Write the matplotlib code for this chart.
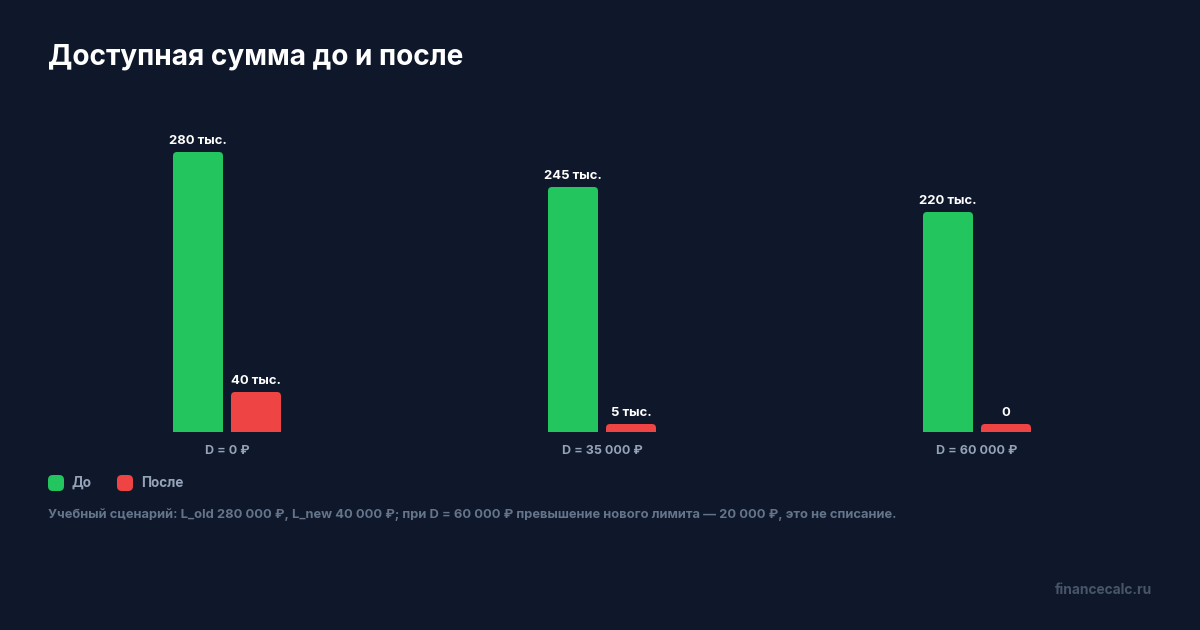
import matplotlib
matplotlib.use("Agg")
import matplotlib.pyplot as plt
from matplotlib.patches import FancyBboxPatch

plt.rcParams['font.family'] = ['Inter', 'DejaVu Sans']

# ---- data ----
categories = ["D = 0 ₽", "D = 35 000 ₽", "D = 60 000 ₽"]
before_vals = [280000, 245000, 220000]
after_vals = [40000, 5000, 0]
before_labels = ["280 тыс.", "245 тыс.", "220 тыс."]
after_labels = ["40 тыс.", "5 тыс.", "0"]
series_names = ["До", "После"]
title = "Доступная сумма до и после"
footnote = ("Учебный сценарий: L_old 280 000 ₽, L_new 40 000 ₽; при D = 60 000 ₽ "
            "превышение нового лимита — 20 000 ₽, это не списание.")
watermark = "financecalc.ru"

# ---- style ----
W, H = 1200, 630
BG = "#0f172a"
GREEN = "#22c55e"
RED = "#ef4444"
WHITE = "#ffffff"
LABEL_GRAY = "#94a3b8"
NOTE_GRAY = "#64748b"
MARK_GRAY = "#475569"
DPI = 100
PT = 72 / DPI  # px -> pt

fig = plt.figure(figsize=(W / DPI, H / DPI), dpi=DPI, facecolor=BG)

def fx(px):
    return px / W

def fy(py):
    return 1 - py / H

# axes: x from 39.5 to 1164.5 px, baseline at 432 px, 1 px = 1000
ax_left, ax_right = 39.5, 1164.5
ax_top, ax_bottom = 132, 432
ax = fig.add_axes([fx(ax_left), fy(ax_bottom), fx(ax_right - ax_left), (ax_bottom - ax_top) / H])
ax.set_facecolor(BG)
ax.set_xlim(-0.5, len(categories) - 0.5)
ax.set_ylim(0, 300000)
ax.axis("off")

px_x = (len(categories)) / (ax_right - ax_left)      # x units per px
px_y = 300000 / (ax_bottom - ax_top)                  # y units per px
bar_w = 50 * px_x
offset = 29 * px_x
min_h = 8 * px_y
radius = 4 * px_x
aspect = px_y / px_x

def draw_bar(xc, val, color, label):
    h = max(val, min_h)
    patch = FancyBboxPatch((xc - bar_w / 2, -radius * aspect), bar_w, h + radius * aspect,
                           boxstyle=f"round,pad=0,rounding_size={radius}",
                           mutation_aspect=aspect, facecolor=color, edgecolor="none",
                           clip_on=True)
    ax.add_patch(patch)
    patch.set_clip_path(ax.patch)
    ax.annotate(label, (xc, h), xytext=(0, 5 * PT), textcoords="offset points",
                ha="center", va="bottom", color=WHITE, fontsize=13 * PT,
                fontweight="bold", annotation_clip=False)

for i, cat in enumerate(categories):
    draw_bar(i - offset, before_vals[i], GREEN, before_labels[i])
    draw_bar(i + offset, after_vals[i], RED, after_labels[i])
    ax.annotate(cat, (i, 0), xytext=(0, -19.5 * PT), textcoords="offset points",
                ha="center", va="center", color=LABEL_GRAY, fontsize=12.5 * PT,
                fontweight="bold", annotation_clip=False)

# title
fig.text(fx(48), fy(57), title, color=WHITE, fontsize=28 * PT, fontweight="bold",
         ha="left", va="center")

# legend
leg_pos = [48, 117]
for name, color, lx in zip(series_names, [GREEN, RED], leg_pos):
    sq = FancyBboxPatch((fx(lx), fy(491)), fx(16), 16 / H,
                        boxstyle="round,pad=0,rounding_size=0.004",
                        mutation_aspect=W / H,
                        transform=fig.transFigure, facecolor=color, edgecolor="none")
    fig.patches.append(sq)
    fig.text(fx(lx + 24), fy(483), name, color=LABEL_GRAY, fontsize=13.5 * PT,
             fontweight="bold", ha="left", va="center")

# footnote
fig.text(fx(48), fy(515), footnote, color=NOTE_GRAY, fontsize=12.95 * PT,
         fontweight="bold", ha="left", va="center")

# watermark
fig.text(fx(1152), fy(590), watermark, color=MARK_GRAY, fontsize=13.8 * PT,
         fontweight="bold", ha="right", va="center")

fig.savefig("out.png", dpi=DPI, facecolor=BG)
